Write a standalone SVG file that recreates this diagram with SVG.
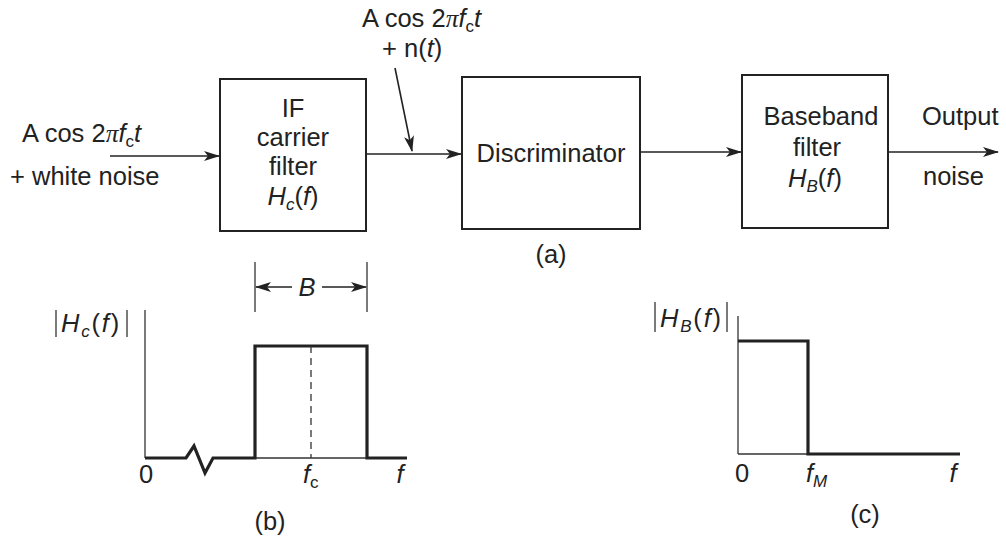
<svg xmlns="http://www.w3.org/2000/svg" width="1006" height="542" viewBox="0 0 1006 542">
<style>
text{font-family:"Liberation Sans",Arial,sans-serif;font-size:25.5px;fill:#222}
.c{text-anchor:middle}
.i{font-style:italic}
.pi{font-family:"Liberation Serif",serif;font-style:italic}
.sub{font-size:17px}
.ls{letter-spacing:1.8px}
.box{fill:none;stroke:#222;stroke-width:2}
.ln{fill:none;stroke:#222;stroke-width:1.6}
.thk{fill:none;stroke:#222;stroke-width:3.2}
.thn{fill:none;stroke:#333;stroke-width:1.3}
</style>
<defs>
<marker id="ah" viewBox="0 0 16 10" refX="15" refY="5" markerWidth="16" markerHeight="10" markerUnits="userSpaceOnUse" orient="auto">
<path d="M0,0 L16,5 L0,10 L4,5 z" fill="#222"/>
</marker>
</defs>
<rect width="1006" height="542" fill="#fff"/>

<g id="input-label">
<text x="22" y="142">A cos 2<tspan class="pi">π</tspan><tspan class="i">f</tspan><tspan class="sub" dy="5">c</tspan><tspan class="i" dy="-5">t</tspan></text>
<text x="10" y="185">+ white noise</text>
</g>

<g id="if-filter">
<rect class="box" x="220" y="79" width="146" height="152"/>
<text class="c" x="293" y="117">IF</text>
<text class="c" x="293" y="146">carrier</text>
<text class="c" x="293" y="175">filter</text>
<text class="c" x="293" y="205"><tspan class="i">H</tspan><tspan class="sub i" dy="5">c</tspan><tspan dy="-5">(</tspan><tspan class="i">f</tspan>)</text>
</g>

<g id="mid-label">
<text x="362" y="27">A cos 2<tspan class="pi">π</tspan><tspan class="i">f</tspan><tspan class="sub" dy="5">c</tspan><tspan class="i" dy="-5">t</tspan></text>
<text x="382" y="57">+ n(<tspan class="i">t</tspan>)</text>
</g>

<g id="discriminator">
<rect class="box" x="462" y="77" width="178" height="152"/>
<text class="c" x="551" y="162">Discriminator</text>
</g>

<g id="baseband-filter">
<rect class="box" x="742" y="75" width="146" height="153"/>
<text class="c" x="821" y="125">Baseband</text>
<text class="c" x="817" y="156">filter</text>
<text class="c" x="815" y="187"><tspan class="i">H</tspan><tspan class="sub i" dy="5">B</tspan><tspan dy="-5">(</tspan><tspan class="i">f</tspan>)</text>
</g>

<g id="output-label">
<text x="922" y="125">Output</text>
<text x="923" y="185">noise</text>
</g>

<g id="connectors">
<line class="ln" x1="110" y1="156" x2="219" y2="156" marker-end="url(#ah)"/>
<line class="ln" x1="366" y1="154" x2="461" y2="154" marker-end="url(#ah)"/>
<line class="ln" x1="395" y1="68" x2="412" y2="151" marker-end="url(#ah)"/>
<line class="ln" x1="640" y1="152" x2="741" y2="152" marker-end="url(#ah)"/>
<line class="ln" x1="888" y1="152" x2="998" y2="152" marker-end="url(#ah)"/>
</g>

<text class="c" x="551" y="263">(a)</text>

<g id="plot-b">
<line class="thn" x1="56" y1="310" x2="56" y2="337"/>
<line class="thn" x1="127" y1="310" x2="127" y2="337"/>
<text class="ls" x="61" y="332"><tspan class="i">H</tspan><tspan class="sub i" dy="5">c</tspan><tspan dy="-5">(</tspan><tspan class="i">f</tspan>)</text>
<line class="thn" x1="145" y1="310" x2="145" y2="458"/>
<line class="thn" x1="255" y1="458" x2="367" y2="458"/>
<path class="thk" d="M145,458 H186 L194,446 L205,473 L213,458 H255 V346 H367 V458 H407"/>
<line class="thn" x1="311" y1="346" x2="311" y2="458" stroke-dasharray="7,5"/>
<line class="thn" x1="255" y1="262" x2="255" y2="312"/>
<line class="thn" x1="367" y1="262" x2="367" y2="312"/>
<line class="ln" x1="292" y1="287" x2="256" y2="287" marker-end="url(#ah)"/>
<line class="ln" x1="322" y1="287" x2="366" y2="287" marker-end="url(#ah)"/>
<text class="c i" x="307" y="296">B</text>
<text class="c" x="146" y="483">0</text>
<text x="303" y="483"><tspan class="i">f</tspan><tspan class="sub" dy="5">c</tspan></text>
<text class="c i" x="400" y="483">f</text>
<text class="c" x="270" y="530">(b)</text>
</g>

<g id="plot-c">
<line class="thn" x1="655" y1="302" x2="655" y2="332"/>
<line class="thn" x1="727" y1="302" x2="727" y2="332"/>
<text class="ls" x="660" y="327"><tspan class="i">H</tspan><tspan class="sub i" dy="5">B</tspan><tspan dy="-5">(</tspan><tspan class="i">f</tspan>)</text>
<line class="thn" x1="738" y1="316" x2="738" y2="454"/>
<line class="thn" x1="738" y1="454" x2="808" y2="454"/>
<path class="thk" d="M738,341 H808 V454 H960"/>
<text class="c" x="742" y="482">0</text>
<text x="806" y="482"><tspan class="i">f</tspan><tspan class="sub i" dy="5">M</tspan></text>
<text class="c i" x="953" y="482">f</text>
<text class="c" x="865" y="523">(c)</text>
</g>
</svg>
